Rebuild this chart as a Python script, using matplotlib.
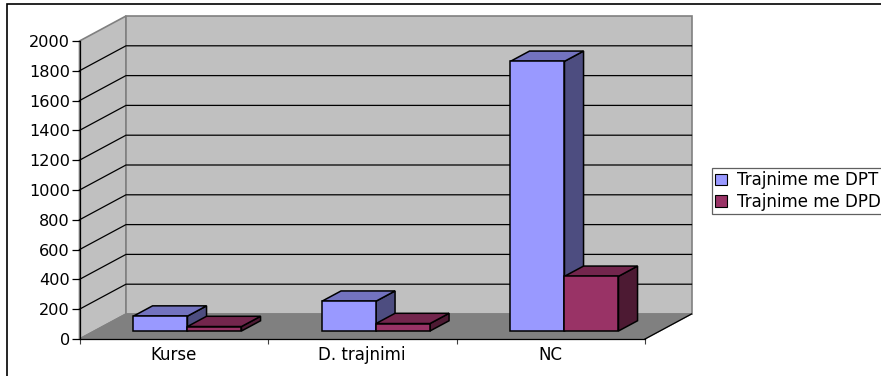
import matplotlib
matplotlib.use('Agg')
import matplotlib.pyplot as plt
from matplotlib.patches import Polygon, Patch, Rectangle

categories = ['Kurse', 'D. trajnimi', 'NC']
dpt_values = [100, 200, 1810]
dpd_values = [30, 50, 367]
series_names = ['Trajnime me DPT', 'Trajnime me DPD']
y_ticks = [0, 200, 400, 600, 800, 1000, 1200, 1400, 1600, 1800, 2000]

# pixels per data unit along each axis
PX_X = 188.5
PX_Y = 0.149
ORIGIN_X = 79.5
ORIGIN_Y = 339.0
W, H = 881, 376

# full depth of the chart box, in data units
DEPTH_X = 46.5 / PX_X
DEPTH_Y = 25.0 / PX_Y

BAR_W = 54.0 / PX_X
BAR_GAP = 39.1 / PX_X
BAR_DEPTH = 0.41
BAR_FRONT = 0.32

WALL = '#C0C0C0'
FLOOR = '#808080'
EDGE = '#808080'

fig = plt.figure(figsize=(W / 100, H / 100), dpi=100)
ax = fig.add_axes([0, 0, 1, 1])
ax.set_xlim(-ORIGIN_X / PX_X, (W - ORIGIN_X) / PX_X)
ax.set_ylim((ORIGIN_Y - H) / PX_Y, ORIGIN_Y / PX_Y)
ax.patch.set_visible(False)

plt.rcParams['font.family'] = 'DejaVu Sans'


def px_x(p):
    return (p - ORIGIN_X) / PX_X


def px_y(p):
    return (ORIGIN_Y - p) / PX_Y


# outer chart border, runs off the right and bottom of the image
ax.add_patch(Rectangle((px_x(7), px_y(400)), px_x(920) - px_x(7), px_y(4) - px_y(400),
                       fc='white', ec='black', lw=1.2, zorder=0))

# walls and floor
top = y_ticks[-1]
ax.add_patch(Polygon([(0, 0), (DEPTH_X, DEPTH_Y), (DEPTH_X, top + DEPTH_Y), (0, top)],
                     fc=WALL, ec=EDGE, lw=1.2, zorder=1))
ax.add_patch(Polygon([(DEPTH_X, DEPTH_Y), (3 + DEPTH_X, DEPTH_Y),
                      (3 + DEPTH_X, top + DEPTH_Y), (DEPTH_X, top + DEPTH_Y)],
                     fc=WALL, ec=EDGE, lw=1.2, zorder=1))
ax.add_patch(Polygon([(0, 0), (3, 0), (3 + DEPTH_X, DEPTH_Y), (DEPTH_X, DEPTH_Y)],
                     fc=FLOOR, ec=EDGE, lw=1.0, zorder=1))
ax.plot([3, 3 + DEPTH_X], [0, DEPTH_Y], color='black', lw=0.9, zorder=2)

# gridlines go along the side wall and then across the back
for v in y_ticks[1:-1]:
    ax.plot([0, DEPTH_X, 3 + DEPTH_X], [v, v + DEPTH_Y, v + DEPTH_Y],
            color='black', lw=0.9, zorder=2, solid_joinstyle='miter')


def bar3d(x, value, face, top_c, side_c):
    x0 = x + BAR_FRONT * DEPTH_X
    y0 = BAR_FRONT * DEPTH_Y
    dx = BAR_DEPTH * DEPTH_X
    dy = BAR_DEPTH * DEPTH_Y
    x1 = x0 + BAR_W
    y1 = y0 + value
    ax.add_patch(Polygon([(x1, y0), (x1 + dx, y0 + dy), (x1 + dx, y1 + dy), (x1, y1)],
                         fc=side_c, ec='black', lw=1.1, zorder=3, joinstyle='miter'))
    ax.add_patch(Polygon([(x0, y1), (x1, y1), (x1 + dx, y1 + dy), (x0 + dx, y1 + dy)],
                         fc=top_c, ec='black', lw=1.1, zorder=3, joinstyle='miter'))
    ax.bar(x0, value, BAR_W, bottom=y0, align='edge', color=face,
           edgecolor='black', linewidth=1.1, zorder=3)


for i in range(len(categories)):
    bar3d(i + BAR_GAP, dpt_values[i], '#9999FF', '#7373BF', '#4D4D80')
    bar3d(i + BAR_GAP + BAR_W, dpd_values[i], '#993366', '#73264D', '#4D1A33')

# axes drawn on the front plane
for s in ['top', 'right']:
    ax.spines[s].set_visible(False)
ax.spines['left'].set_position(('data', 0))
ax.spines['bottom'].set_position(('data', 0))
ax.spines['left'].set_bounds(0, top)
ax.spines['bottom'].set_bounds(0, 3)
for s in ['left', 'bottom']:
    ax.spines[s].set_linewidth(0.9)
    ax.spines[s].set_zorder(4)

ax.set_yticks(y_ticks)
ax.set_yticklabels([str(v) for v in y_ticks], fontsize=11.6, color='black')
ax.tick_params(axis='y', length=6, width=0.9, pad=1)
ax.set_xticks([0, 1, 2, 3])
ax.set_xticklabels([])
ax.tick_params(axis='x', which='major', length=3.5, width=0.8, color='#404040')
ax.set_xticks([0.5, 1.5, 2.5], minor=True)
ax.set_xticklabels(categories, minor=True, fontsize=12)
ax.tick_params(axis='x', which='minor', length=0, pad=5)

handles = [Patch(fc='#9999FF', ec='black', lw=0.8), Patch(fc='#993366', ec='black', lw=0.8)]
leg = ax.legend(handles, series_names, loc='upper left',
                bbox_to_anchor=(711.5 / W, 1 - 168 / H), bbox_transform=fig.transFigure,
                fontsize=12, frameon=True, fancybox=False, edgecolor='#606060',
                framealpha=1, borderaxespad=0, handlelength=0.7, handleheight=0.7,
                handletextpad=0.65, labelspacing=0.21, borderpad=0.2)
leg.get_frame().set_linewidth(0.9)

fig.savefig('out.png', dpi=100)
